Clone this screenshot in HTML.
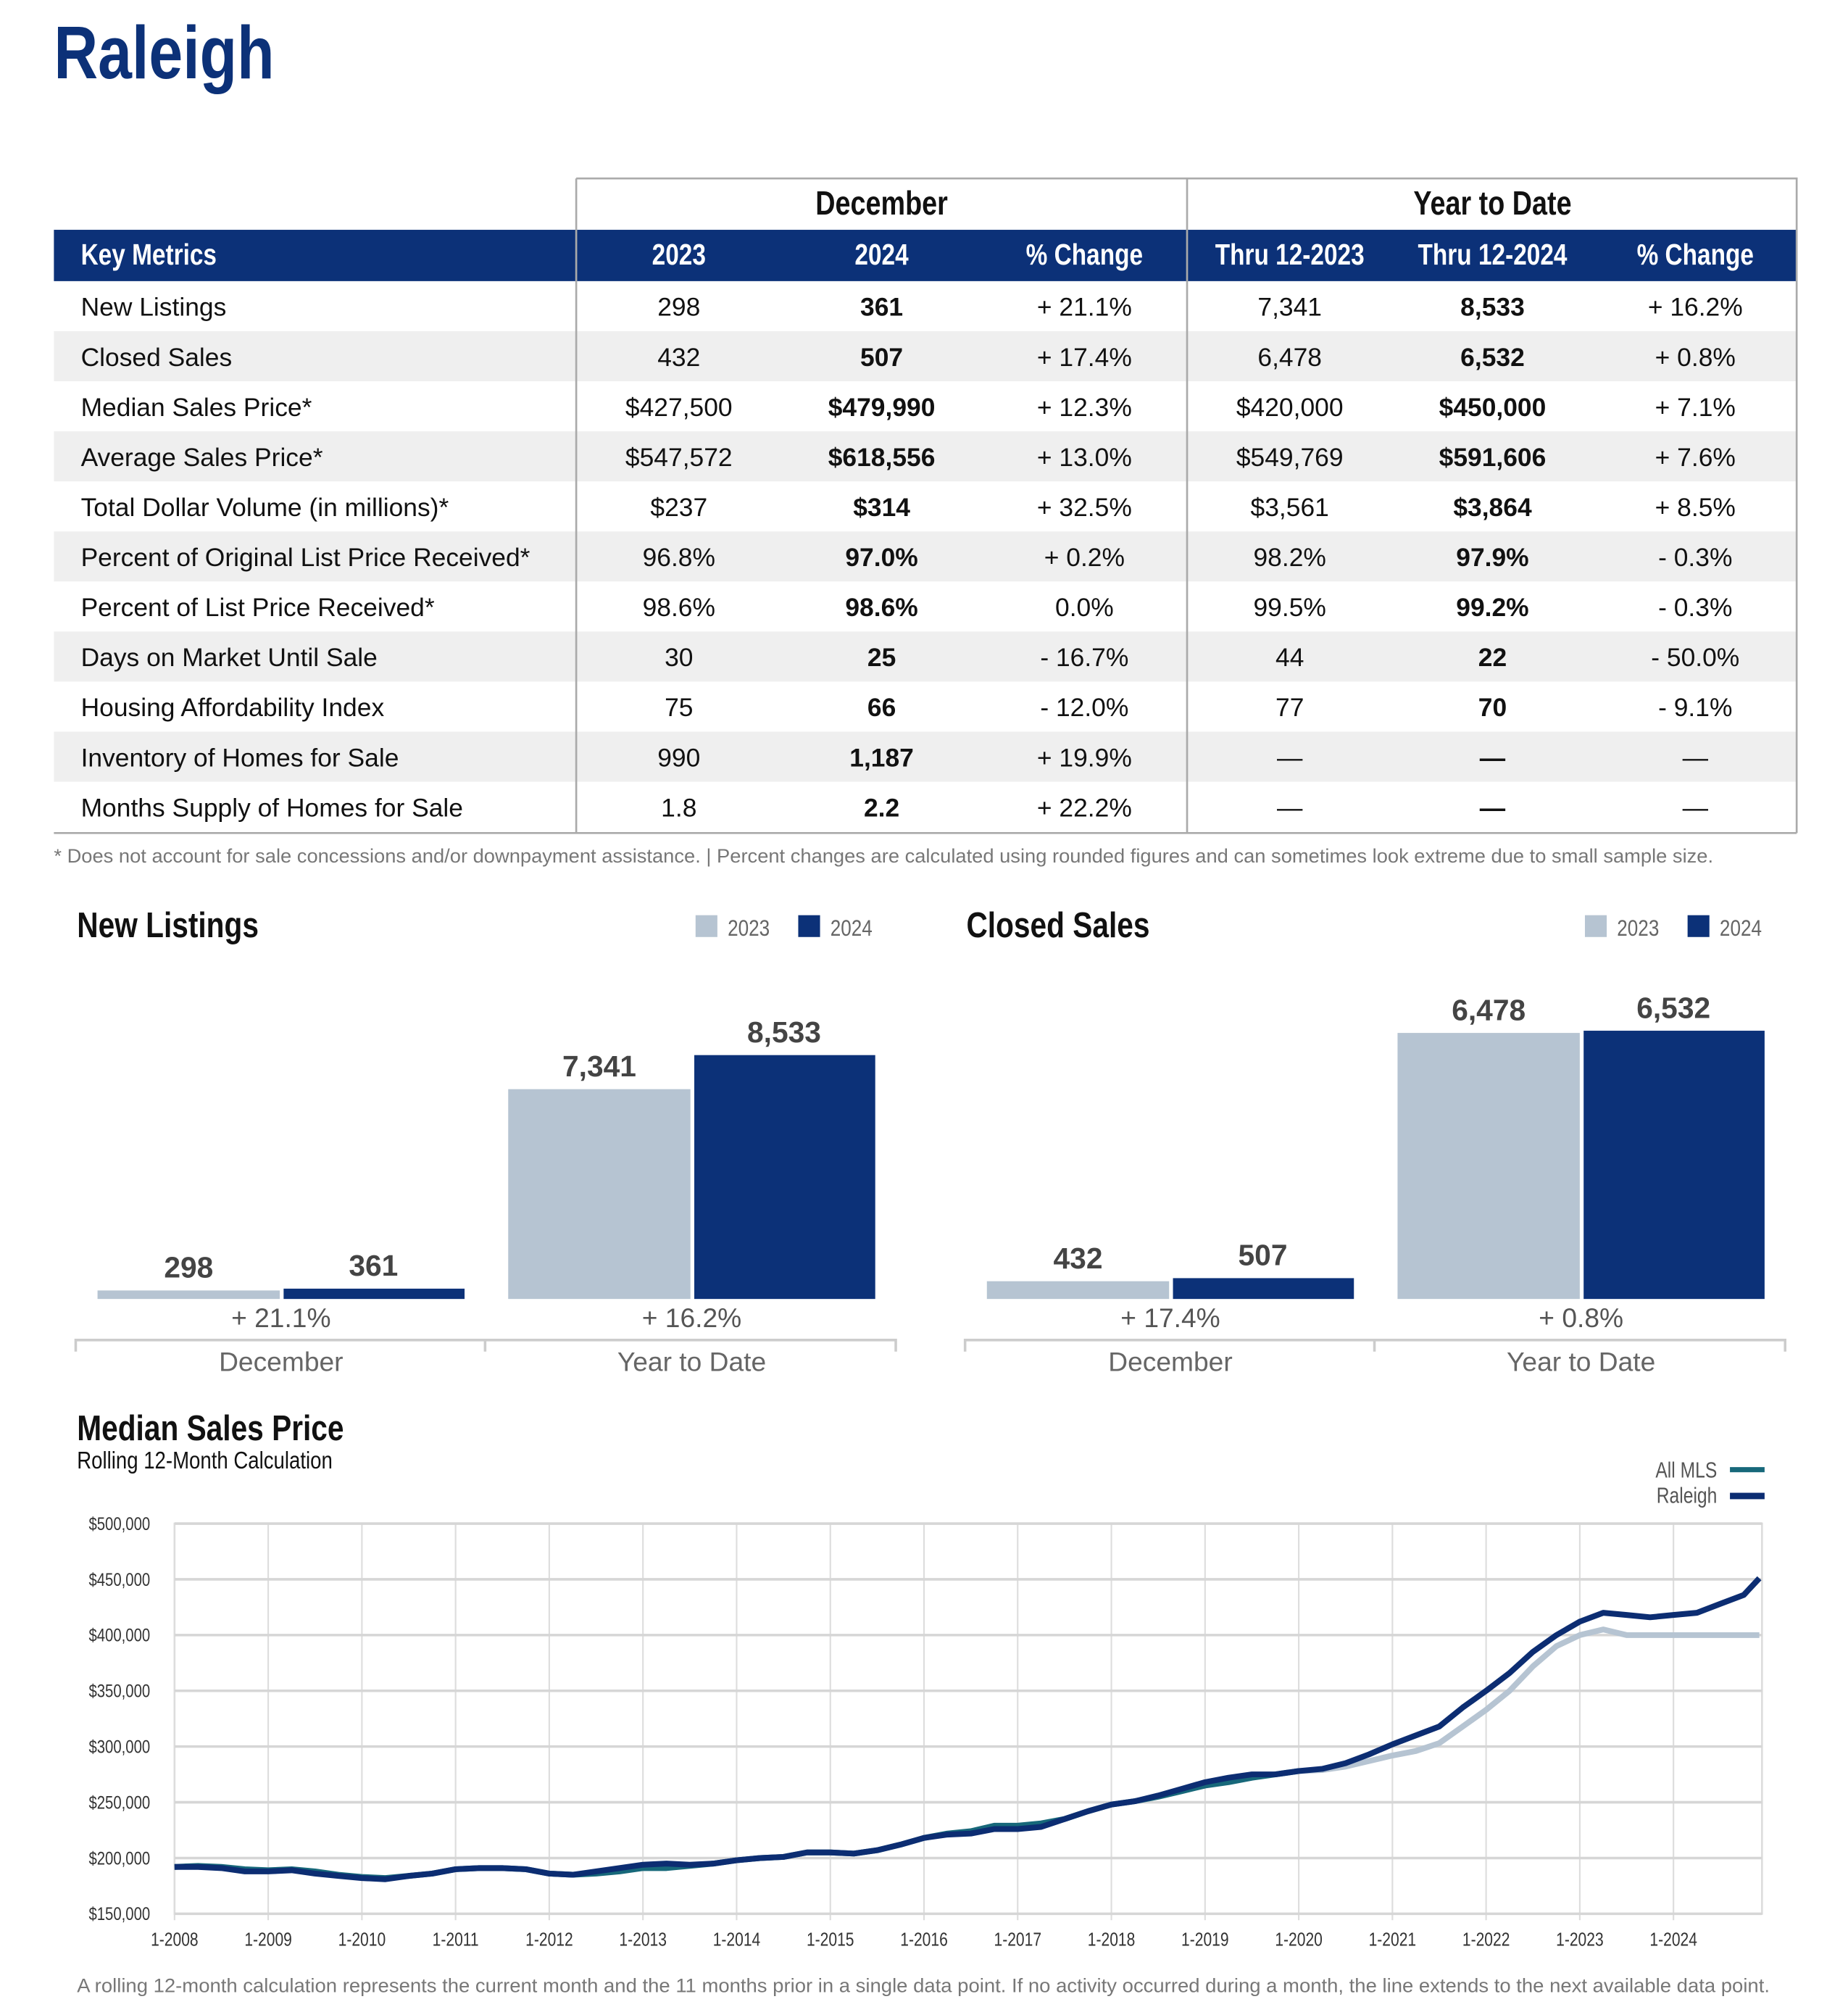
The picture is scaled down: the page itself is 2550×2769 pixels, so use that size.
<!DOCTYPE html>
<html><head><meta charset="utf-8"><style>
html,body{margin:0;padding:0;background:#fff}
svg{display:block}
text{font-family:"Liberation Sans",sans-serif}
</style></head><body>
<svg id="page" width="2550" height="2769" viewBox="0 0 1440 1563.6" xmlns="http://www.w3.org/2000/svg"></svg>
<script>
// ---------- DATA ----------
const tableCols = ["2023","2024","% Change","Thru 12-2023","Thru 12-2024","% Change"];
const metricNames = ["New Listings","Closed Sales","Median Sales Price*","Average Sales Price*","Total Dollar Volume (in millions)*","Percent of Original List Price Received*","Percent of List Price Received*","Days on Market Until Sale","Housing Affordability Index","Inventory of Homes for Sale","Months Supply of Homes for Sale"];
const decPrev = ["298","432","$427,500","$547,572","$237","96.8%","98.6%","30","75","990","1.8"];
const decCur = ["361","507","$479,990","$618,556","$314","97.0%","98.6%","25","66","1,187","2.2"];
const decChg = ["+ 21.1%","+ 17.4%","+ 12.3%","+ 13.0%","+ 32.5%","+ 0.2%","0.0%","- 16.7%","- 12.0%","+ 19.9%","+ 22.2%"];
const ytdPrev = ["7,341","6,478","$420,000","$549,769","$3,561","98.2%","99.5%","44","77","—","—"];
const ytdCur = ["8,533","6,532","$450,000","$591,606","$3,864","97.9%","99.2%","22","70","—","—"];
const ytdChg = ["+ 16.2%","+ 0.8%","+ 7.1%","+ 7.6%","+ 8.5%","- 0.3%","- 0.3%","- 50.0%","- 9.1%","—","—"];

const nlPrev = [298, 7341];
const nlCur = [361, 8533];
const nlChg = ["+ 21.1%","+ 16.2%"];
const csPrev = [432, 6478];
const csCur = [507, 6532];
const csChg = ["+ 17.4%","+ 0.8%"];
const barCats = ["December","Year to Date"];

const yTicks = [150000,200000,250000,300000,350000,400000,450000,500000];
const xTickYears = [2008,2009,2010,2011,2012,2013,2014,2015,2016,2017,2018,2019,2020,2021,2022,2023,2024];
const months = [0,3,6,9,12,15,18,21,24,27,30,33,36,39,42,45,48,51,54,57,60,63,66,69,72,75,78,81,84,87,90,93,96,99,102,105,108,111,114,117,120,123,126,129,132,135,138,141,144,147,150,153,156,159,162,165,168,171,174,177,180,183,186,189,192,195,198,201,203];
const raleigh = [192,192,191,188,188,189,186,184,182,181,184,186,190,191,191,190,186,185,188,191,194,195,194,195,198,200,201,205,205,204,207,212,218,221,222,226,226,228,235,242,248,251,256,262,268,272,275,275,278,280,285,293,302,310,318,335,350,366,385,400,412,420,418,416,418,420,428,436,451];
const allMls = [192,193,192,190,189,190,188,185,183,182,184,186,190,191,191,190,186,185,186,188,191,191,193,195,198,200,201,205,205,204,207,212,218,222,224,229,229,231,235,242,248,251,255,260,265,268,272,275,278,279,282,287,292,296,303,318,333,350,372,390,400,405,400,400,400,400,400,400,400];

// ---------- HELPERS ----------
const NS="http://www.w3.org/2000/svg";
const svg=document.getElementById('page');
function mk(tag,attrs,parent){const e=document.createElementNS(NS,tag);for(const k in attrs)e.setAttribute(k,attrs[k]);(parent||svg).appendChild(e);return e;}
function txt(s,x,y,size,opts,parent){
  opts=opts||{};
  const sx=opts.cond?0.82:1;
  const e=mk('text',{transform:`translate(${x},${y}) scale(${sx},1)`,'font-size':size,fill:opts.fill||'#111','font-weight':opts.bold?'bold':'normal','text-anchor':opts.anchor||'start'},parent);
  if(opts.len){e.setAttribute('textLength',opts.len);e.setAttribute('lengthAdjust','spacingAndGlyphs');}
  e.textContent=s;return e;
}

// ---------- TITLE ----------
let t=txt("Raleigh",42,61,58,{cond:true,bold:true,fill:'#0c3178'});



// ---------- TABLE ----------
const tbl=mk('g',{});


for(let i=0;i<metricNames.length;i++){
  if(i%2===1){const r=mk('rect',{x:42,y:258+39*(i-1),width:1358,height:39,fill:'#efefef'},tbl);}
}
const hdr=mk('rect',{x:42,y:179,width:1358,height:40,fill:'#0c3178'},tbl);


mk('path',{d:'M449 139 H1400 V649 M449 139 V649 M925 139 V649 M42 649 H1400',stroke:'#aaa','stroke-width':1.5,fill:'none'},tbl);
let g1=txt("December",687,167,26,{cond:true,bold:true,anchor:'middle'},tbl);

let g2=txt("Year to Date",1163,167,26,{cond:true,bold:true,anchor:'middle'},tbl);

let km=txt("Key Metrics",63,206,23,{cond:true,bold:true,fill:'#fff'},tbl);

const colX=[529,687,845,1005,1163,1321];
tableCols.forEach((c,j)=>{const e=txt(c,colX[j],206,23,{cond:true,bold:true,fill:'#fff',anchor:'middle'},tbl);});
const cols=[decPrev,decCur,decChg,ytdPrev,ytdCur,ytdChg];
metricNames.forEach((m,i)=>{
  const y=246+39*i;
  const e=txt(m,63,y,20,{},tbl);
  cols.forEach((arr,j)=>{const c=txt(arr[i],colX[j],y,20,{bold:(j===1||j===4),anchor:'middle'},tbl);});
});
let fn=txt("* Does not account for sale concessions and/or downpayment assistance. | Percent changes are calculated using rounded figures and can sometimes look extreme due to small sample size.",42,672,15,{fill:'#777',len:1293});


// ---------- BAR CHARTS ----------
function barChart(ox,title,prev,cur,chg,name){
  const g=mk('g',{transform:`translate(${ox},0)`});
  
  
  const ti=txt(title,60,730,28,{cond:true,bold:true},g);
  const l1=mk('rect',{x:542,y:713,width:17,height:17,fill:'#b6c4d2'},g);
  const lt1=txt("2023",567,729,18,{cond:true,fill:'#666'},g);
  const l2=mk('rect',{x:622,y:713,width:17,height:17,fill:'#0c3178'},g);
  const lt2=txt("2024",647,729,18,{cond:true,fill:'#666'},g);
  const base=1012, maxH=title==="Closed Sales"?209:190;
  const maxV=Math.max(...prev,...cur);
  const yH=v=>v/maxV*maxH;
  const groupX=[76,396];
  for(let i=0;i<prev.length;i++){
    const gx=groupX[i];
    const h1=Math.max(yH(prev[i]),5),h2=Math.max(yH(cur[i]),5);
    const b1=mk('rect',{x:gx,y:base-h1,width:142,height:h1,fill:'#b6c4d2'},g);
    const b2=mk('rect',{x:gx+145,y:base-h2,width:141,height:h2,fill:'#0c3178'},g);
    const v1=txt(prev[i].toLocaleString('en-US'),gx+71,base-h1-10,23,{bold:true,fill:'#444',anchor:'middle'},g);
    const v2=txt(cur[i].toLocaleString('en-US'),gx+215,base-h2-10,23,{bold:true,fill:'#444',anchor:'middle'},g);
    const pc=txt(chg[i],gx+143,1034,21,{fill:'#555',anchor:'middle'},g);
    const cl=txt(barCats[i],gx+143,1068,21,{fill:'#666',anchor:'middle'},g);
  }
  const ax=mk('path',{d:'M59 1053 V1044 H698 V1053 M378 1044 V1053',stroke:'#ccc','stroke-width':2,fill:'none'},g);
  
}
barChart(0,"New Listings",nlPrev,nlCur,nlChg,'new-listings-chart');
barChart(693,"Closed Sales",csPrev,csCur,csChg,'closed-sales-chart');

// ---------- LINE CHART ----------
const lc=mk('g',{});


const lt=txt("Median Sales Price",60,1122,28,{cond:true,bold:true},lc);
const ls=txt("Rolling 12-Month Calculation",60,1144,19,{cond:true},lc);
const X0=136,X1=1373,Y0=1491,Y1=1187;
const xm=m=>X0+m*(1304-X0)/192;
const ys=v=>Y0-(v-150000)/(350000)*(Y0-Y1);
mk('rect',{x:X0,y:Y1,width:X1-X0,height:Y0-Y1,fill:'none',stroke:'#ddd','stroke-width':1.5},lc);
xTickYears.forEach((yr,i)=>{
  const x=xm(i*12);
  const l=mk('line',{x1:x,x2:x,y1:Y1,y2:Y0+5,stroke:'#ddd','stroke-width':1.2},lc);
  const tx=txt("1-"+yr,x,1516,14.5,{cond:true,fill:'#333',anchor:'middle'},lc);
});
yTicks.forEach(v=>{
  const y=ys(v);
  const l=mk('line',{x1:X0,x2:X1,y1:y,y2:y,stroke:'#d6d6d6','stroke-width':2},lc);
  const tx=txt("$"+v.toLocaleString('en-US'),117,y+5,14,{cond:true,fill:'#333',anchor:'end'},lc);
});
function pathFor(arr,from,to){let d='';const end=(to===undefined)?arr.length:to;for(let i=from;i<end;i++){d+=(i===from?'M':'L')+xm(months[i]).toFixed(1)+' '+ys(arr[i]*1000).toFixed(1);}return d;}
const mlsGray=mk('path',{d:pathFor(allMls,48),stroke:'#b6c4d2','stroke-width':4.5,fill:'none','stroke-linejoin':'round'},lc);

const mlsTeal=mk('path',{d:pathFor(allMls,0,49),stroke:'#17687a','stroke-width':4.5,fill:'none','stroke-linejoin':'round'},lc);

const ral=mk('path',{d:pathFor(raleigh,0),stroke:'#0c2d72','stroke-width':4.5,fill:'none','stroke-linejoin':'round'},lc);

const lg1=txt("All MLS",1338,1151,17,{cond:true,fill:'#555',anchor:'end'},lc);
const sw1=mk('rect',{x:1348,y:1143,width:27,height:4,fill:'#17687a'},lc);
const lg2=txt("Raleigh",1338,1171,17,{cond:true,fill:'#555',anchor:'end'},lc);
const sw2=mk('rect',{x:1348,y:1163,width:27,height:5,fill:'#0c2d72'},lc);
const note=txt("A rolling 12-month calculation represents the current month and the 11 months prior in a single data point. If no activity occurred during a month, the line extends to the next available data point.",60,1552,15,{fill:'#777',len:1319});

</script>
</body></html>
